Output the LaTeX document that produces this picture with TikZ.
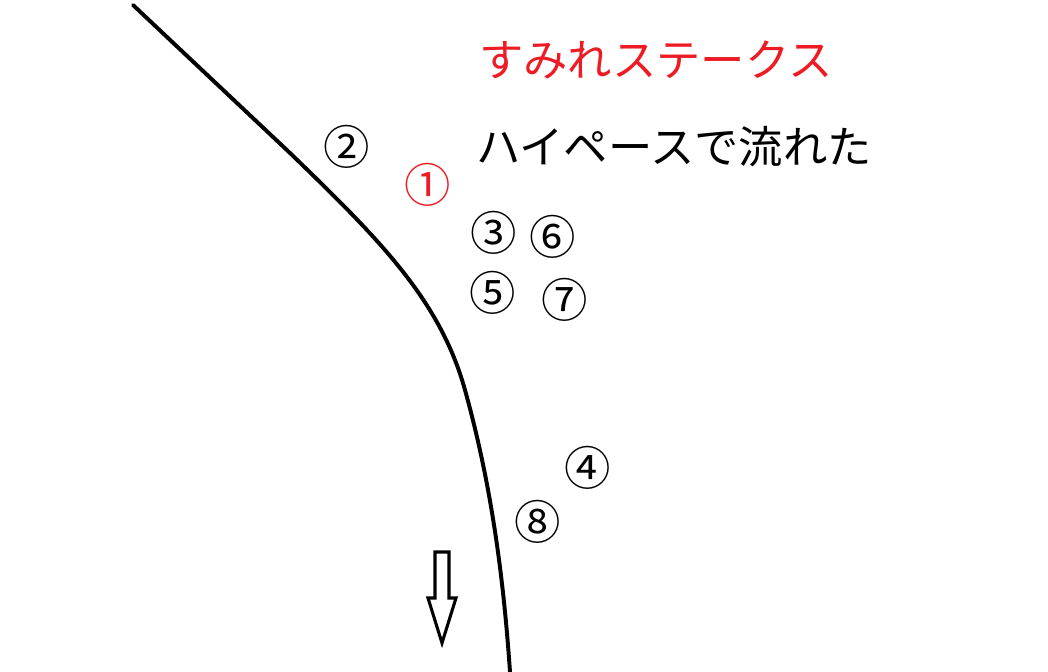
\documentclass[tikz,border=0pt]{standalone}
\usepackage{fontspec}
\setmainfont{Noto Sans CJK JP}
\usepackage{xcolor}
\usetikzlibrary{positioning}
\definecolor{racered}{RGB}{237,28,36}
\tikzstyle{horse} = [inner sep=0pt, font=\fontsize{33}{33}\selectfont]
\tikzstyle{caption} = [anchor=west, inner sep=0pt, font=\fontsize{31.5}{32}\selectfont]
\tikzstyle{rail} = [line width=2.8pt, line cap=round]

\begin{document}
\begin{tikzpicture}[x=0.025cm, y=-0.025cm]
    \useasboundingbox (0,0) rectangle (1048,672);

    % Rail
    \draw [rail] (133,5) -- (290,153) .. controls (380,240) and (440,300) .. (465,390) .. controls (490,480) and (503,570) .. (510,672);

    % Title
    \node (race) [caption, text=racered] at (479,60) {すみれステークス};
    \node (pace) [caption] at (476,147) {ハイペースで流れた};

    % Horses
    \node (h2) [horse] at (347,147) {②};
    \node (h1) [horse, text=racered] at (428,185) {①};
    \node (h3) [horse] at (494,233) {③};
    \node (h6) [horse] at (553,237) {⑥};
    \node (h5) [horse] at (493,293) {⑤};
    \node (h7) [horse] at (565,300) {⑦};
    \node (h4) [horse] at (588,468) {④};
    \node (h8) [horse] at (538,522) {⑧};

    % Direction
    \draw [line width=2.2pt, line join=miter] (435,552) -- (449,552) -- (449,598) -- (456,598) -- (442,643) -- (428,598) -- (435,598) -- cycle;
\end{tikzpicture}
\end{document}
